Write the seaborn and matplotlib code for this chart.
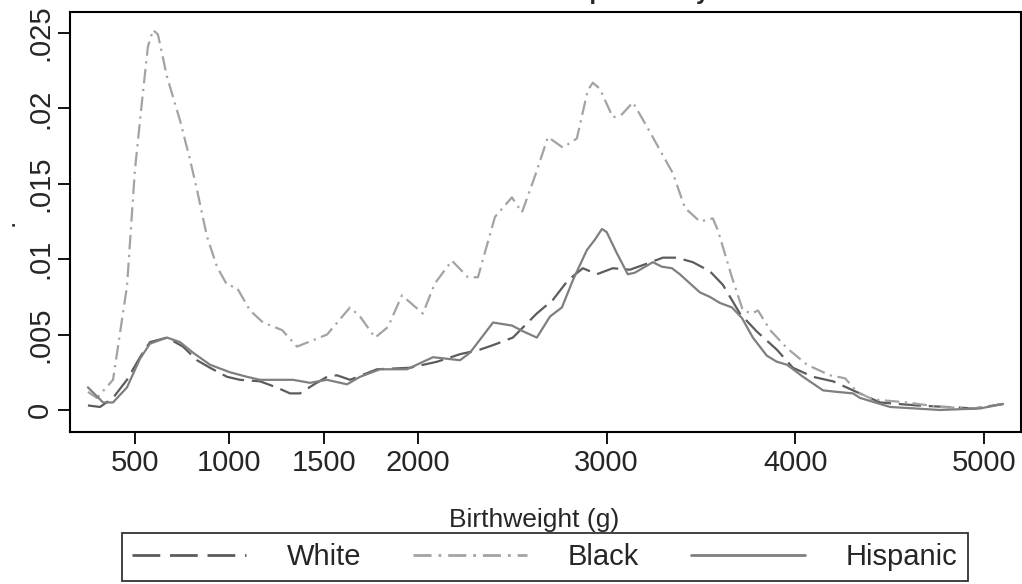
import matplotlib
matplotlib.use("Agg")
import matplotlib.pyplot as plt
import seaborn as sns
import pandas as pd

# ---- data (birthweight in g, kernel density) ----
white_g = [251, 315, 384, 458, 527, 580, 670, 755, 829, 898,
           988, 1057, 1163, 1250, 1322, 1375, 1450, 1518, 1571, 1640,
           1783, 1958, 2101, 2223, 2328, 2398, 2503, 2630, 2715, 2795,
           2874, 2948, 3033, 3123, 3213, 3298, 3372, 3457, 3547, 3616,
           3706, 3796, 3902, 3987, 4093, 4200, 4306, 4449, 4645, 4800,
           4950, 5101]
white_d = [.0003, .0002, .0008, .0020, .0035, .0045, .0048, .0042, .0033, .0028,
           .0022, .0020, .0019, .0015, .0011, .0011, .0017, .0022, .0023, .0020,
           .0027, .0028, .0032, .0037, .0040, .0043, .0048, .0064, .0073, .0086,
           .0094, .0090, .0094, .0093, .0097, .0101, .0101, .0098, .0092, .0083,
           .0064, .0052, .0040, .0028, .0022, .0019, .0013, .0005, .0003, .0002,
           .0001, .0004]

black_g = [251, 299, 384, 458, 500, 537, 569, 596, 622, 670,
           739, 792, 829, 882, 935, 988, 1041, 1110, 1179, 1280,
           1359, 1518, 1640, 1693, 1773, 1841, 1915, 2026, 2090, 2180,
           2265, 2318, 2408, 2498, 2551, 2620, 2689, 2768, 2842, 2900,
           2927, 2964, 3033, 3081, 3139, 3213, 3293, 3351, 3415, 3494,
           3563, 3590, 3664, 3722, 3770, 3802, 3866, 3956, 4062, 4184,
           4264, 4327, 4412, 4592, 4767, 4942, 5101]
black_d = [.0012, .0008, .0020, .0082, .0159, .0204, .0241, .0252, .0249, .0221,
           .0192, .0166, .0146, .0115, .0095, .0083, .0081, .0066, .0058, .0053,
           .0042, .0050, .0068, .0062, .0048, .0055, .0076, .0064, .0084, .0099,
           .0088, .0088, .0128, .0141, .0131, .0155, .0181, .0174, .0180, .0212,
           .0217, .0213, .0194, .0196, .0204, .0188, .0170, .0157, .0134, .0125,
           .0127, .0119, .0088, .0066, .0064, .0066, .0053, .0041, .0030, .0023,
           .0021, .0012, .0007, .0005, .0002, .0001, .0004]

hisp_g = [251, 331, 384, 458, 527, 580, 670, 739, 808, 898,
          1004, 1094, 1163, 1338, 1428, 1518, 1624, 1693, 1799, 1942,
          2080, 2223, 2276, 2398, 2498, 2560, 2630, 2700, 2763, 2821,
          2895, 2938, 2975, 3000, 3054, 3112, 3149, 3245, 3293, 3346,
          3388, 3494, 3547, 3600, 3664, 3717, 3775, 3849, 3902, 3956,
          4041, 4147, 4221, 4306, 4343, 4502, 4767, 4979, 5101]
hisp_d = [.0015, .0005, .0005, .0015, .0034, .0044, .0048, .0045, .0038, .0030,
          .0025, .0022, .0020, .0020, .0018, .0020, .0017, .0022, .0027, .0027,
          .0035, .0033, .0038, .0058, .0056, .0052, .0048, .0062, .0068, .0086,
          .0106, .0113, .0120, .0118, .0104, .0090, .0091, .0098, .0095, .0094,
          .0090, .0078, .0075, .0071, .0068, .0061, .0048, .0036, .0032, .0030,
          .0022, .0013, .0012, .0011, .0008, .0002, .0000, .0001, .0004]

series_names = ["White", "Black", "Hispanic"]
x_ticks = [500, 1000, 1500, 2000, 3000, 4000, 5000]
y_ticks = [0, .005, .01, .015, .02, .025]
y_tick_labels = ["0", ".005", ".01", ".015", ".02", ".025"]
x_title = "Birthweight (g)"
y_title = "."
title_text = "Comparison by Race"

# ---- style ----
sns.set_style("white")
plt.rcParams["font.family"] = ["Liberation Sans", "DejaVu Sans"]

W, H = 1022, 584
fig = plt.figure(figsize=(W / 100, H / 100), dpi=100)
ax = fig.add_axes([70 / W, 1 - 432 / H, (1021 - 70) / W, (432 - 12) / H])

colors = {"White": "#5c5c5c", "Black": "#a3a3a3", "Hispanic": "#7f7f7f"}
dash = {"White": (10, 3.5), "Black": (6.5, 2.5, 1, 2.5), "Hispanic": None}
data = {"White": (white_g, white_d), "Black": (black_g, black_d),
        "Hispanic": (hisp_g, hisp_d)}

handles = []
for name in series_names:
    g, d = data[name]
    df = pd.DataFrame({"g": g, "d": d})
    n_before = len(ax.lines)
    sns.lineplot(data=df, x="g", y="d", ax=ax, color=colors[name],
                 linewidth=1.6, sort=False, estimator=None, legend=False)
    line = ax.lines[n_before]
    if dash[name] is not None:
        line.set_dashes(dash[name])
    line.set_solid_joinstyle("round")
    line.set_dash_joinstyle("round")
    line.set_label(name)
    handles.append(line)
if ax.get_legend() is not None:
    ax.get_legend().remove()

ax.set_xlim(156, 5196)
ax.set_ylim(-0.00146, 0.02639)
ax.set_xticks(x_ticks)
ax.set_xticklabels([str(t) for t in x_ticks])
ax.set_yticks(y_ticks)
ax.set_yticklabels(y_tick_labels, rotation=90, va="center")
ax.tick_params(axis="both", which="major", direction="out", length=8.5,
               width=1.3, color="black", labelsize=21,
               bottom=True, left=True, top=False, right=False)
ax.tick_params(axis="x", pad=4)
ax.tick_params(axis="y", pad=3)
for s in ax.spines.values():
    s.set_visible(True)
    s.set_color("black")
    s.set_linewidth(1.5)
ax.set_xlabel(x_title, fontsize=19)
ax.set_ylabel(y_title, fontsize=19)
ax.xaxis.set_label_coords(0.488, -0.181, transform=ax.transAxes)
ax.yaxis.set_label_coords(-0.054, 0.5, transform=ax.transAxes)

leg = fig.legend(handles=handles, labels=series_names, ncol=3,
                 loc="lower left",
                 bbox_to_anchor=(122 / W, 1 - 581 / H, (968 - 122) / W, 50 / H),
                 mode="expand", fontsize=21, frameon=True, fancybox=False,
                 handlelength=3.9, handletextpad=1.4, borderaxespad=0,
                 columnspacing=2.0, borderpad=0.35)
leg.get_frame().set_edgecolor("black")
leg.get_frame().set_linewidth(1.3)
leg.get_frame().set_facecolor("white")
for lh in leg.get_lines():
    lh.set_linewidth(2.0)

# Title sits mostly above the canvas; only descenders show
fig.text(655 / W, 1.0 + 1 / H, title_text, ha="center", va="baseline",
         fontsize=17, fontweight="bold")

fig.savefig("out.png", dpi=100, facecolor="white")
